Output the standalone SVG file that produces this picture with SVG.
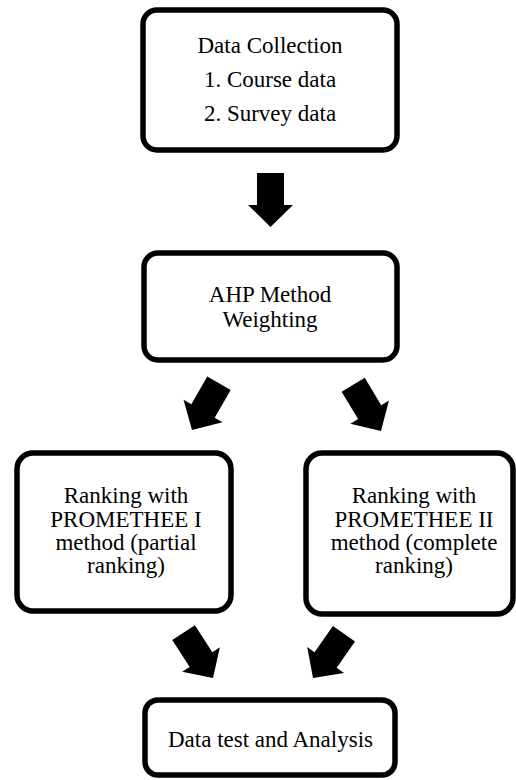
<svg xmlns="http://www.w3.org/2000/svg" width="516" height="780" viewBox="0 0 516 780">
<style>
.box{fill:#fff;stroke:#000;stroke-width:5.5}
.arr{fill:#000}
</style>
<defs>
<path id="ar" d="M-13.5,-54 L13.5,-54 L13.5,-22 L22.5,-22 L0,0 L-22.5,-22 L-13.5,-22 Z"/>
</defs>
<rect x="0" y="0" width="516" height="780" fill="#fff"/>
<g id="connectors">
<use href="#ar" class="arr" transform="translate(270.5,227)"/>
<use href="#ar" class="arr" transform="translate(192,430) rotate(30)"/>
<use href="#ar" class="arr" transform="translate(381,431) rotate(-31)"/>
<use href="#ar" class="arr" transform="translate(213,678) rotate(-33)"/>
<use href="#ar" class="arr" transform="translate(313,678) rotate(35)"/>
</g>
<g id="data-collection">
<rect class="box" x="143" y="10" width="254" height="140" rx="14"/>
<text x="270" y="53" font-family="Liberation Serif" font-size="23" text-anchor="middle">Data Collection</text>
<text x="270" y="87" font-family="Liberation Serif" font-size="23" text-anchor="middle">1. Course data</text>
<text x="270" y="120.5" font-family="Liberation Serif" font-size="23" text-anchor="middle">2. Survey data</text>
</g>
<g id="ahp">
<rect class="box" x="144" y="253" width="253" height="107" rx="14"/>
<text x="270" y="302" font-family="Liberation Serif" font-size="23" text-anchor="middle">AHP Method</text>
<text x="270" y="326.5" font-family="Liberation Serif" font-size="23" text-anchor="middle">Weighting</text>
</g>
<g id="promethee1">
<rect class="box" x="17" y="453" width="214" height="158" rx="16"/>
<text x="126" y="503" font-family="Liberation Serif" font-size="23" text-anchor="middle">Ranking with</text>
<text x="126" y="527" font-family="Liberation Serif" font-size="23" text-anchor="middle">PROMETHEE I</text>
<text x="126" y="550" font-family="Liberation Serif" font-size="23" text-anchor="middle">method (partial</text>
<text x="126" y="573" font-family="Liberation Serif" font-size="23" text-anchor="middle">ranking)</text>
</g>
<g id="promethee2">
<rect class="box" x="306" y="453" width="207" height="161" rx="16"/>
<text x="414" y="503" font-family="Liberation Serif" font-size="23" text-anchor="middle">Ranking with</text>
<text x="414" y="527" font-family="Liberation Serif" font-size="23" text-anchor="middle">PROMETHEE II</text>
<text x="414" y="550" font-family="Liberation Serif" font-size="23" text-anchor="middle">method (complete</text>
<text x="414" y="573" font-family="Liberation Serif" font-size="23" text-anchor="middle">ranking)</text>
</g>
<g id="analysis">
<rect class="box" x="145" y="700" width="250" height="75" rx="13"/>
<text x="270.5" y="746.5" font-family="Liberation Serif" font-size="23" text-anchor="middle">Data test and Analysis</text>
</g>
</svg>
